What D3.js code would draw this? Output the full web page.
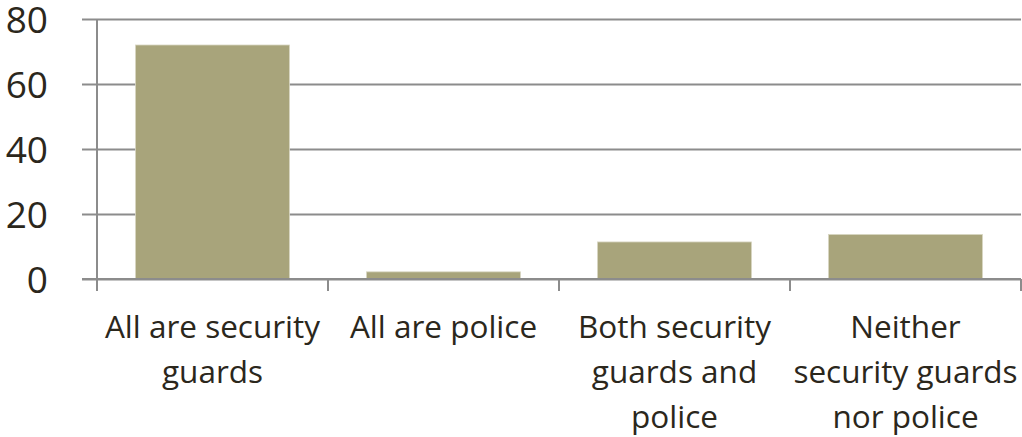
<!DOCTYPE html>
<html><head><meta charset="utf-8">
<script src="https://cdn.jsdelivr.net/npm/d3@7"></script>
<style>body{margin:0;background:#fff}svg{display:block}</style>
</head><body><svg id="c" width="1022" height="437"></svg>
<script>
const categories = [["All are security","guards"],["All are police"],["Both security","guards and","police"],["Neither","security guards","nor police"]];
const values = [72, 2.2, 11.4, 13.7];
const yTicks = [0, 20, 40, 60, 80];

const svg = d3.select("#c");
const m = {l: 97, r: 1021, t: 19, b: 279};
const x = d3.scaleBand().domain(d3.range(categories.length)).range([m.l, m.r]).paddingInner(1/3).paddingOuter(1/6);
const xb = d3.scaleBand().domain(d3.range(categories.length)).range([m.l, m.r]);
const y = d3.scaleLinear().domain([0, 80]).range([m.b, m.t]);
const grid = "#8c8c8c", txt = "#2b271c";
const font = "'Open Sans', sans-serif";

// gridlines + y labels
const ya = svg.append("g").attr("transform", `translate(${m.l},0)`)
  .call(d3.axisLeft(y).tickValues(yTicks).tickSize(-(m.r - m.l)).tickPadding(0).tickFormat(d3.format("d")));
ya.select(".domain").remove();
ya.selectAll(".tick line").attr("x1", -15).attr("stroke", grid).attr("stroke-width", 2);
ya.selectAll(".tick text").attr("x", -49).attr("fill", txt).style("font-family", font).style("font-size", "37px").attr("dy", "0.37em");

// y axis vertical line
svg.append("line").attr("x1", m.l).attr("x2", m.l).attr("y1", y(80)).attr("y2", m.b + 12).attr("stroke", grid).attr("stroke-width", 2);

// x ticks at band boundaries
const bounds = d3.range(categories.length + 1).map(i => i < categories.length ? xb(i) : m.r);
svg.selectAll(".xt").data(bounds).join("line").attr("class", "xt")
  .attr("x1", d => d).attr("x2", d => d).attr("y1", m.b).attr("y2", m.b + 12)
  .attr("stroke", grid).attr("stroke-width", 2);

// bars
svg.selectAll(".bar").data(values).join("rect").attr("class", "bar")
  .attr("x", (d, i) => x(i)).attr("width", x.bandwidth())
  .attr("y", d => y(d)).attr("height", d => y(0) - y(d))
  .attr("fill", "#a8a47b").attr("stroke", "#d8d6c2").attr("stroke-width", 0.8);

// redraw baseline on top
svg.append("line").attr("x1", m.l - 15).attr("x2", m.r).attr("y1", m.b).attr("y2", m.b).attr("stroke", grid).attr("stroke-width", 2);

// category labels
const lab = svg.selectAll(".cl").data(categories).join("text").attr("class", "cl")
  .attr("text-anchor", "middle").attr("fill", txt).style("font-family", font).style("font-size", "31.5px");
lab.each(function(lines, i) {
  d3.select(this).selectAll("tspan").data(lines).join("tspan")
    .attr("x", xb(i) + xb.bandwidth() / 2).attr("y", (d, j) => 338 + j * 45).text(d => d);
});
</script></body></html>
